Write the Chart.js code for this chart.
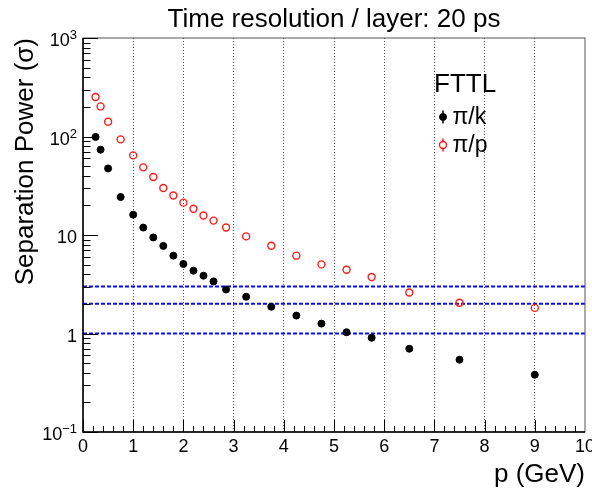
<!DOCTYPE html>
<html>
<head>
<meta charset="utf-8">
<script src="https://cdn.jsdelivr.net/npm/chart.js@4.4.1/dist/chart.umd.min.js"></script>
<style>
  html, body { margin: 0; padding: 0; background: #fff; }
</style>
</head>
<body>
<canvas id="graficaSeparacion" width="592" height="490"></canvas>
<script>
// momento (GeV) y poder de separacion (sigma)
const momentum = [0.25, 0.35, 0.5, 0.75, 1.0, 1.2, 1.4, 1.6, 1.8, 2.0, 2.2, 2.4, 2.6, 2.85, 3.25, 3.75, 4.25, 4.75, 5.25, 5.75, 6.5, 7.5, 9.0];
const sepPiK = [99, 73.5, 47.4, 24.3, 16.1, 11.9, 9.45, 7.75, 6.17, 5.08, 4.34, 3.86, 3.38, 2.80, 2.36, 1.87, 1.52, 1.26, 1.03, 0.906, 0.70, 0.542, 0.382];
const sepPiP = [252, 202, 141, 93.5, 64.3, 48.6, 38.8, 30.0, 25.2, 21.3, 18.5, 15.8, 14.0, 11.9, 9.68, 7.79, 6.17, 5.03, 4.44, 3.75, 2.61, 2.05, 1.82];
const thresholds = [1, 2, 3];
const xTicks = [0, 1, 2, 3, 4, 5, 6, 7, 8, 9, 10];
const yTicks = [0.1, 1, 10, 100, 1000];

const FONT = '"Liberation Sans", Arial, Helvetica, sans-serif';

function puntos(ys) {
  return momentum.map((p, i) => ({ x: p, y: ys[i] }));
}

const lineasUmbral = thresholds.map(t => ({
  label: 'umbral ' + t,
  data: [{ x: xTicks[0], y: t }, { x: xTicks[xTicks.length - 1], y: t }],
  showLine: true,
  borderColor: '#0a0aff',
  borderWidth: 2,
  borderDash: [4, 2],
  pointRadius: 0,
  order: 2,
  esLeyenda: false
}));

function sup(n) {
  return String(n).replace('-', '\u2212');
}

// ejes estilo ROOT: marco, marcas hacia dentro, etiquetas 10^n, leyenda
const decoracion = {
  id: 'decoracion',
  afterDatasetsDraw(chart) {
    const { ctx, chartArea: a, scales: { x, y } } = chart;
    ctx.save();
    ctx.strokeStyle = '#555';
    ctx.lineWidth = 1;
    ctx.strokeRect(a.left, a.top, a.right - a.left, a.bottom - a.top);

    ctx.strokeStyle = '#000';
    ctx.lineWidth = 1.5;
    ctx.beginPath();
    ctx.moveTo(a.left, a.top);
    ctx.lineTo(a.left, a.bottom);
    ctx.lineTo(a.right, a.bottom);
    ctx.stroke();

    // marcas eje x (cada 0.2)
    ctx.lineWidth = 1;
    ctx.beginPath();
    for (let i = 0; i < xTicks.length - 1; i++) {
      for (let k = 0; k < 5; k++) {
        const px = Math.round(x.getPixelForValue(xTicks[i] + k * (xTicks[i + 1] - xTicks[i]) / 5)) + 0.5;
        const len = k === 0 ? 12 : 6;
        ctx.moveTo(px, a.bottom);
        ctx.lineTo(px, a.bottom - len);
      }
    }
    // marcas eje y (log)
    for (let i = 0; i < yTicks.length; i++) {
      const top = i === yTicks.length - 1 ? 1 : 9;
      for (let m = 1; m <= top; m++) {
        const py = Math.round(y.getPixelForValue(yTicks[i] * m)) + 0.5;
        const len = m === 1 ? 15 : 7.5;
        ctx.moveTo(a.left, py);
        ctx.lineTo(a.left + len, py);
      }
    }
    ctx.stroke();

    // etiquetas eje y
    ctx.fillStyle = '#000';
    ctx.textBaseline = 'alphabetic';
    ctx.textAlign = 'right';
    const xr = a.left - 6;
    yTicks.forEach(v => {
      const e = Math.round(Math.log10(v));
      const base = y.getPixelForValue(v) + 8;
      if (e === 0 || e === 1) {
        ctx.font = '18px ' + FONT;
        ctx.fillText(e === 0 ? '1' : '10', xr, base);
      } else {
        ctx.font = '13px ' + FONT;
        const s = sup(e);
        const w = ctx.measureText(s).width;
        ctx.fillText(s, xr, base - 7);
        ctx.font = '18px ' + FONT;
        ctx.fillText('10', xr - w, base);
      }
    });
    ctx.restore();
  },
  afterDraw(chart) {
    const { ctx } = chart;
    ctx.save();
    ctx.fillStyle = '#000';
    ctx.textAlign = 'left';
    ctx.textBaseline = 'alphabetic';
    ctx.font = '26px ' + FONT;
    ctx.fillText('FTTL', 434, 91.5);
    const entradas = chart.data.datasets.filter(d => d.esLeyenda);
    entradas.forEach((d, i) => {
      const base = 124 + i * 28;
      const my = base - 7;
      const mx = 443;
      ctx.strokeStyle = d.borderColor;
      ctx.lineWidth = 1.5;
      ctx.beginPath();
      ctx.moveTo(mx, my - 6.5);
      ctx.lineTo(mx, my - d.pointRadius);
      ctx.moveTo(mx, my + d.pointRadius);
      ctx.lineTo(mx, my + 6.5);
      ctx.stroke();
      ctx.beginPath();
      ctx.arc(mx, my, d.pointRadius, 0, Math.PI * 2);
      if (d.backgroundColor !== 'rgba(0,0,0,0)') {
        ctx.fillStyle = d.backgroundColor;
        ctx.fill();
      }
      ctx.lineWidth = d.borderWidth || 1;
      ctx.stroke();
      ctx.fillStyle = '#000';
      ctx.font = '23px ' + FONT;
      ctx.fillText(d.label, 452.5, base);
    });
    ctx.restore();
  }
};

function crearGraficoSeparacion() {
  const ctx = document.getElementById('graficaSeparacion').getContext('2d');
  return new Chart(ctx, {
    type: 'scatter',
    data: {
      datasets: [{
        label: '\u03c0/k',
        data: puntos(sepPiK),
        backgroundColor: '#000000',
        borderColor: '#000000',
        borderWidth: 1,
        pointRadius: 3.5,
        order: 0,
        esLeyenda: true
      }, {
        label: '\u03c0/p',
        data: puntos(sepPiP),
        backgroundColor: 'rgba(0,0,0,0)',
        borderColor: '#ff1a1a',
        borderWidth: 1.4,
        pointRadius: 3.5,
        order: 0,
        esLeyenda: true
      }].concat(lineasUmbral)
    },
    options: {
      responsive: false,
      animation: false,
      devicePixelRatio: 1,
      layout: { padding: { left: 0, right: 7, top: 0, bottom: 0 } },
      plugins: {
        legend: { display: false },
        tooltip: { enabled: false },
        title: {
          display: true,
          text: 'Time resolution / layer: 20 ps',
          fullSize: false,
          color: '#000',
          font: { family: FONT, size: 26, weight: 'normal' },
          padding: { top: 4, bottom: 2.8 }
        }
      },
      scales: {
        x: {
          type: 'linear',
          min: 0,
          max: 10,
          afterBuildTicks: s => { s.ticks = xTicks.map(v => ({ value: v })); },
          afterFit: s => { s.height = 58; s.paddingLeft = 0; s.paddingRight = 0; },
          grid: {
            drawTicks: false,
            lineWidth: 1,
            color: c => (c.tick && c.tick.value > 0 && c.tick.value < 10) ? '#555' : 'rgba(0,0,0,0)'
          },
          border: { display: false, dash: [1, 2] },
          ticks: {
            color: '#000',
            padding: 4,
            maxRotation: 0,
            autoSkip: false,
            font: { family: FONT, size: 18 }
          },
          title: {
            display: true,
            text: 'p (GeV)',
            align: 'end',
            color: '#000',
            font: { family: FONT, size: 26 },
            padding: { top: 0, bottom: 0 }
          }
        },
        y: {
          type: 'logarithmic',
          min: 0.1,
          max: 1000,
          afterBuildTicks: s => { s.ticks = yTicks.map(v => ({ value: v })); },
          afterFit: s => { s.width = 83; s.paddingTop = 0; s.paddingBottom = 0; },
          grid: { display: false, drawTicks: false },
          border: { display: false },
          ticks: { display: false },
          title: {
            display: true,
            text: 'Separation Power (\u03c3)',
            align: 'end',
            color: '#000',
            font: { family: FONT, size: 26 },
            padding: { top: 10, bottom: 0 }
          }
        }
      }
    },
    plugins: [decoracion]
  });
}

crearGraficoSeparacion();
</script>
</body>
</html>
